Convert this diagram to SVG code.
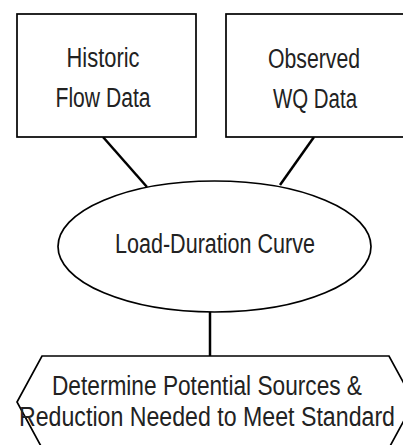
<svg xmlns="http://www.w3.org/2000/svg" width="403" height="445" viewBox="0 0 403 445">
<style>
.shape{fill:#fff;stroke:#000;stroke-width:1.7}
.conn{stroke:#000;stroke-width:2.5;fill:none}
.t{font-family:"Liberation Sans",Arial,sans-serif;font-size:27px;fill:#222;text-anchor:middle}
</style>
<rect width="403" height="445" fill="#fff"/>
<g id="connectors">
<line class="conn" x1="103" y1="137" x2="147" y2="187"/>
<line class="conn" x1="314" y1="137" x2="280" y2="185"/>
<line class="conn" x1="210" y1="312" x2="210" y2="356"/>
</g>
<g id="historic">
<rect class="shape" x="17" y="14" width="179" height="123"/>
<text class="t" x="103" y="67" textLength="73" lengthAdjust="spacingAndGlyphs">Historic</text>
<text class="t" x="103" y="107" textLength="95" lengthAdjust="spacingAndGlyphs">Flow Data</text>
</g>
<g id="observed">
<rect class="shape" x="226" y="14" width="190" height="123"/>
<text class="t" x="314" y="68" textLength="92" lengthAdjust="spacingAndGlyphs">Observed</text>
<text class="t" x="315" y="108" textLength="84" lengthAdjust="spacingAndGlyphs">WQ Data</text>
</g>
<g id="ldc">
<ellipse class="shape" cx="214.5" cy="246.5" rx="156.5" ry="65.5"/>
<text class="t" x="215" y="253" textLength="200" lengthAdjust="spacingAndGlyphs">Load-Duration Curve</text>
</g>
<g id="determine">
<polygon class="shape" points="42,356 389,356 414,402 389,448 42,448 17,402"/>
<text class="t" x="207" y="395" textLength="310" lengthAdjust="spacingAndGlyphs">Determine Potential Sources &amp;</text>
<text class="t" x="207" y="426" textLength="376" lengthAdjust="spacingAndGlyphs">Reduction Needed to Meet Standard</text>
</g>
</svg>
